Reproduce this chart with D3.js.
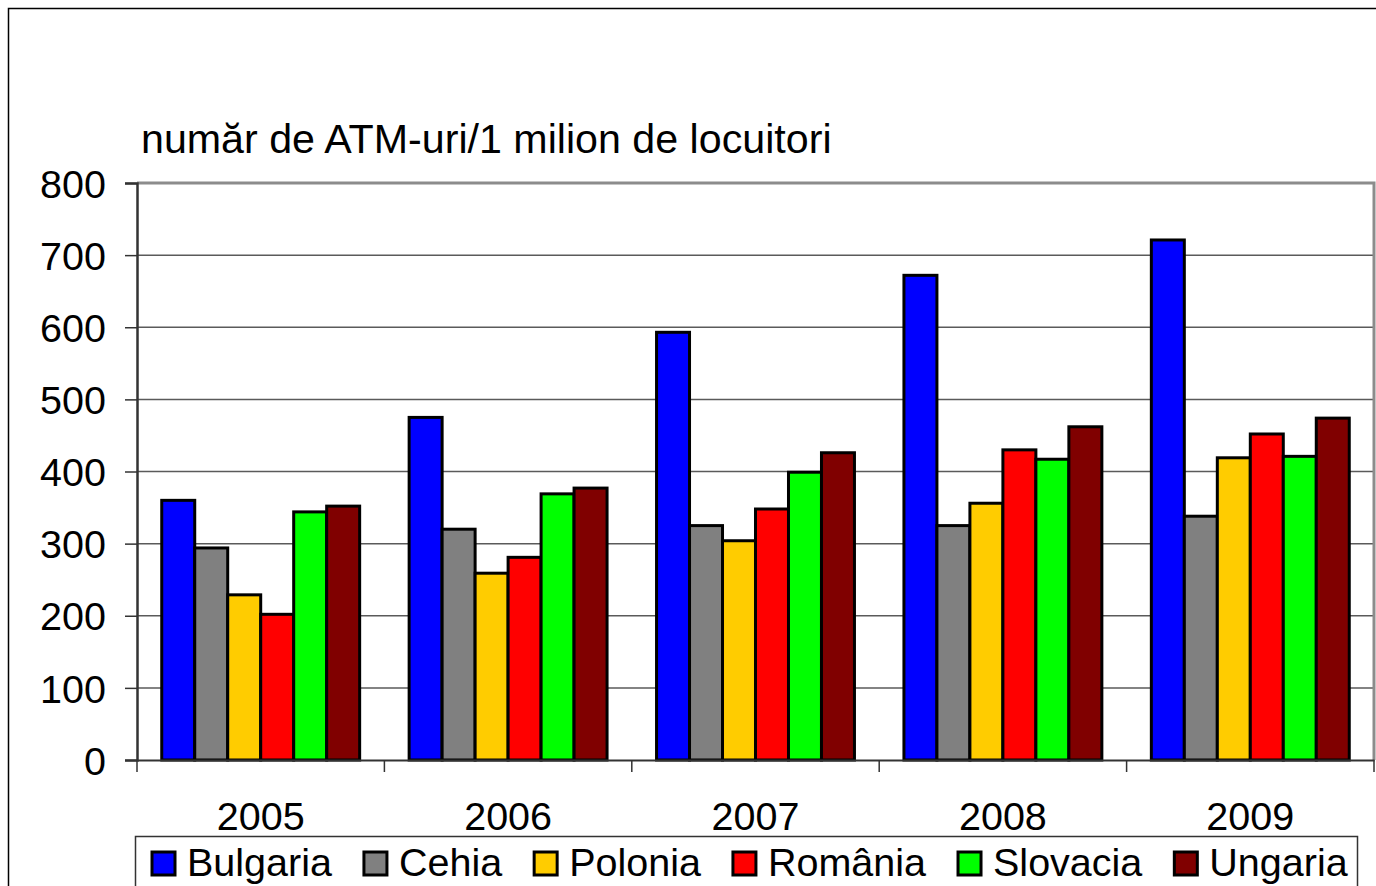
<!DOCTYPE html>
<html>
<head>
<meta charset="utf-8">
<script src="https://cdn.jsdelivr.net/npm/d3@7"></script>
<style>
  html, body { margin: 0; padding: 0; background: #fff; }
  svg { display: block; }
  text { font-family: "Liberation Sans", Arial, sans-serif; fill: #000; }
</style>
</head>
<body>
<svg id="chart" width="1376" height="886"></svg>
<script>
const years = ["2005", "2006", "2007", "2008", "2009"];
const countries = ["Bulgaria", "Cehia", "Polonia", "România", "Slovacia", "Ungaria"];
const colors = ["#0000FF", "#808080", "#FFCC00", "#FF0000", "#00FF00", "#800000"];
const bulgaria = [360, 475, 593, 672, 721];
const cehia    = [294, 320, 325, 325, 338];
const polonia  = [229, 259, 304, 356, 419];
const romania  = [202, 281, 348, 430, 452];
const slovacia = [344, 369, 399, 417, 421];
const ungaria  = [352, 377, 426, 462, 474];
const yTicks = [0, 100, 200, 300, 400, 500, 600, 700, 800];
const titleText = "număr de ATM-uri/1 milion de locuitori";

const seriesValues = [bulgaria, cehia, polonia, romania, slovacia, ungaria];
const data = years.map((yr, i) => ({
  year: yr,
  values: countries.map((c, j) => ({ country: c, value: seriesValues[j][i], color: colors[j] }))
}));

const svg = d3.select("#chart");
const pLeft = 137, pRight = 1374, pTop = 183, pBottom = 760;

// outer frame
svg.append("rect").attr("x", 8.5).attr("y", 8.5).attr("width", 1400).attr("height", 1000)
  .attr("fill", "none").attr("stroke", "#000").attr("stroke-width", 1.5);

const x0 = d3.scaleBand().domain(years).range([pLeft, pRight]).paddingInner(0).paddingOuter(0);
const bw = x0.bandwidth();
const gap = bw * 1.5 / 7.5;
const x1 = d3.scaleBand().domain(countries).range([gap / 2, bw - gap / 2]).padding(0);
const y = d3.scaleLinear().domain([0, 800]).range([pBottom, pTop]);

// gridlines
svg.append("g").selectAll("line").data(yTicks.filter(t => t > 0 && t < 800)).join("line")
  .attr("x1", pLeft).attr("x2", pRight)
  .attr("y1", d => y(d)).attr("y2", d => y(d))
  .attr("stroke", "#5a5a5a").attr("stroke-width", 1.5);

// plot border top/right
svg.append("path")
  .attr("d", `M${pLeft},${pTop}H${pRight}V${pBottom}`)
  .attr("fill", "none").attr("stroke", "#8c8c8c").attr("stroke-width", 3);

// bars
const groups = svg.append("g").selectAll("g").data(data).join("g")
  .attr("transform", d => `translate(${x0(d.year)},0)`);
groups.selectAll("rect").data(d => d.values).join("rect")
  .attr("x", d => x1(d.country))
  .attr("width", x1.bandwidth())
  .attr("y", d => y(d.value))
  .attr("height", d => y(0) - y(d.value))
  .attr("fill", d => d.color)
  .attr("stroke", "#000").attr("stroke-width", 3);

// y axis
const yAxis = d3.axisLeft(y).tickValues(yTicks).tickSize(12).tickPadding(19);
const gy = svg.append("g").attr("transform", `translate(${pLeft},0)`).call(yAxis);
gy.select(".domain").attr("stroke", "#333").attr("stroke-width", 2.5);
gy.selectAll(".tick line").attr("stroke", "#333").attr("stroke-width", 1.5);
gy.selectAll(".tick text").attr("font-size", 39.5).attr("font-family", "Liberation Sans, Arial, sans-serif")
  .attr("fill", "#000").attr("dy", "0.36em");

// x axis
const xAxis = d3.axisBottom(x0).tickSize(0).tickPadding(0);
const gx = svg.append("g").attr("transform", `translate(0,${pBottom})`).call(xAxis);
gx.select(".domain").attr("stroke", "#333").attr("stroke-width", 2);
gx.selectAll(".tick text").attr("font-size", 39.5).attr("font-family", "Liberation Sans, Arial, sans-serif")
  .attr("fill", "#000").attr("y", 70).attr("dy", 0);
// category boundary ticks
svg.append("g").selectAll("line").data(years.concat(["end"])).join("line")
  .attr("x1", (d, i) => pLeft + i * bw).attr("x2", (d, i) => pLeft + i * bw)
  .attr("y1", pBottom).attr("y2", pBottom + 12)
  .attr("stroke", "#333").attr("stroke-width", 1.5);

// title
svg.append("text").attr("x", 141).attr("y", 153).attr("font-size", 41.2).text(titleText);

// legend
const lg = svg.append("g");
lg.append("rect").attr("x", 135.5).attr("y", 836.5).attr("width", 1222).attr("height", 60)
  .attr("fill", "#fff").attr("stroke", "#333").attr("stroke-width", 1.5);
let lx = 152;
countries.forEach((c, i) => {
  lg.append("rect").attr("x", lx).attr("y", 852).attr("width", 23).attr("height", 23)
    .attr("fill", colors[i]).attr("stroke", "#000").attr("stroke-width", 3);
  const t = lg.append("text").attr("x", lx + 35).attr("y", 876).attr("font-size", 39.5).text(c);
  const w = t.node().getComputedTextLength();
  lx = lx + 35 + w + 32;
});
</script>
</body>
</html>
